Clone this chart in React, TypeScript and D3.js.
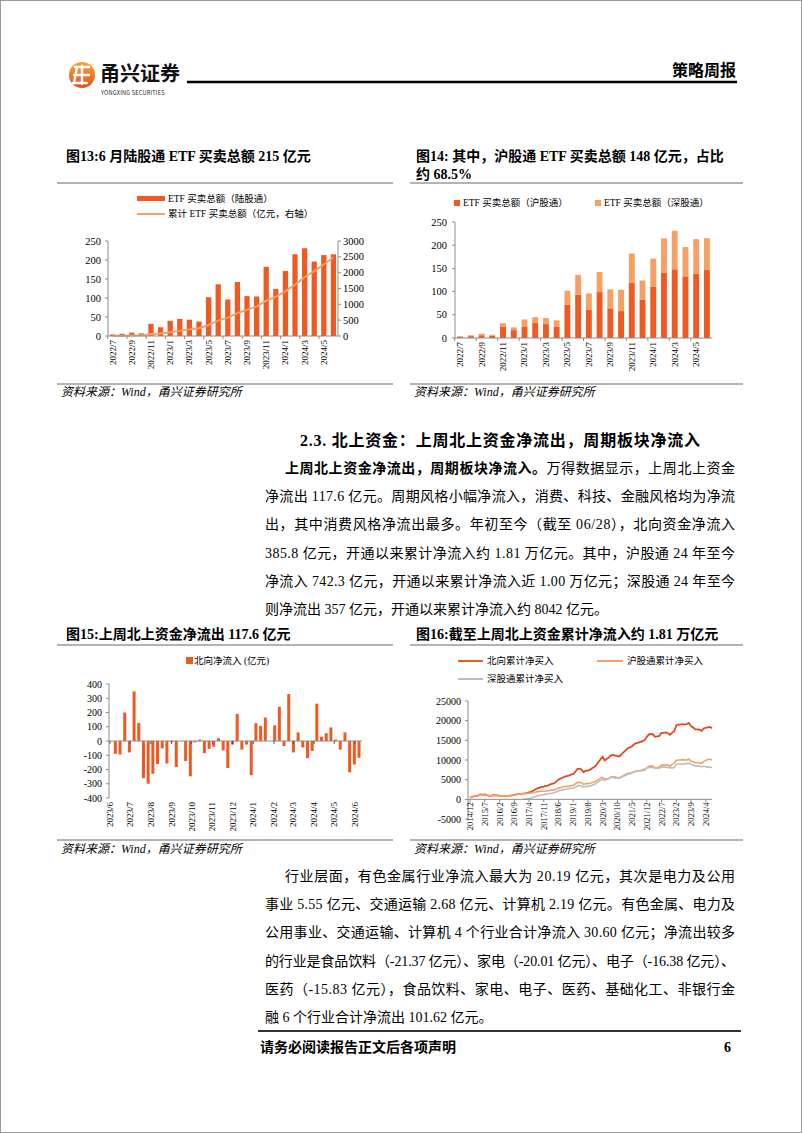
import React from 'react';
import * as d3 from 'd3';

const W = 802;
const H = 1133;
const SERIF = '"Liberation Serif","Noto Sans CJK SC",serif';
const SANS = '"Noto Sans CJK SC","Noto Sans",sans-serif';
const ORANGE = '#F05A22';
const LIGHT = '#F6A066';
const AXIS = '#8C8C8C';

// ---------- Chart 13 / 14 data (monthly, 亿元) ----------
const etfMonths = ['2022/7','2022/8','2022/9','2022/10','2022/11','2022/12','2023/1','2023/2','2023/3','2023/4','2023/5','2023/6','2023/7','2023/8','2023/9','2023/10','2023/11','2023/12','2024/1','2024/2','2024/3','2024/4','2024/5','2024/6'];
const etfTotal = [4,6,9,7,32,23,40,45,43,38,102,136,96,142,105,104,182,124,171,215,231,196,213,215];
const etfCumulative = [4,10,19,26,58,81,121,166,209,247,349,485,581,723,828,932,1114,1238,1409,1624,1855,2051,2264,2479];
const etfSH = [3,4,6,5,24,17,25,33,30,24,72,93,61,99,64,58,119,82,111,141,148,133,139,147];
const etfSZ = [1,2,3,2,8,6,15,12,13,14,30,43,35,43,41,46,63,42,60,74,83,63,74,68];
const leftTicks13 = [0,50,100,150,200,250];
const rightTicks13 = [0,500,1000,1500,2000,2500,3000];

// ---------- Chart 15 data (weekly net inflow, 亿元) ----------
const weekDates = ['2023-06-09','2023-06-16','2023-06-23','2023-06-30','2023-07-07','2023-07-14','2023-07-21','2023-07-28','2023-08-04','2023-08-11','2023-08-18','2023-08-25','2023-09-01','2023-09-08','2023-09-15','2023-09-22','2023-09-29','2023-10-06','2023-10-13','2023-10-20','2023-10-27','2023-11-03','2023-11-10','2023-11-17','2023-11-24','2023-12-01','2023-12-08','2023-12-15','2023-12-22','2023-12-29','2024-01-05','2024-01-12','2024-01-19','2024-01-26','2024-02-02','2024-02-09','2024-02-16','2024-02-23','2024-03-01','2024-03-08','2024-03-15','2024-03-22','2024-03-29','2024-04-05','2024-04-12','2024-04-19','2024-04-26','2024-05-03','2024-05-10','2024-05-17','2024-05-24','2024-05-31','2024-06-07'];
const weeklyFlow = [-90,-95,200,-80,348,127,-261,-300,-230,-162,-52,-158,-8,-183,0,-140,-248,-10,10,-85,-55,-40,20,-65,-190,-25,190,-60,-25,-240,125,105,165,0,110,240,-35,330,-80,60,-45,-120,-70,262,30,55,95,10,-60,60,-220,-165,-118];
const ticks15 = [-400,-300,-200,-100,0,100,200,300,400];

// ---------- Chart 16 data (month-end cumulative, 亿元), 2014/11 .. 2024/6 ----------
const cumNorth = [450,650,
  800,850,1000,1300,1150,1250,1050,950,900,1050,1000,1000,
  880,870,900,880,900,950,1000,1100,1250,1330,1400,1450,
  1500,1600,1750,1900,2200,2500,2800,3000,3150,3250,3400,3500,
  3800,3900,4100,4500,5000,5300,5500,5800,5900,6000,6300,6400,
  7000,7700,7800,7600,6900,7300,7300,7500,7900,8200,8700,9500,
  10200,10800,9900,10300,10600,11200,11300,11100,11000,10900,11500,12000,
  12500,13000,13200,13500,14000,14300,14400,14600,14800,15100,15900,16500,
  16600,16500,15900,16000,16100,16900,16900,17000,16800,16400,16900,17300,
  18800,19000,19000,19100,19000,19100,19400,18600,18300,17800,17800,17700,
  17400,18000,18200,18300,18400,18100];
const cumSH = [450,650,
  800,850,1000,1300,1150,1250,1050,950,900,1050,1000,1000,
  880,870,900,880,900,950,1000,1100,1250,1330,1400,1430,
  1450,1500,1550,1600,1700,1800,1950,2000,2050,2050,2100,2100,
  2300,2350,2400,2600,2850,3000,3100,3250,3300,3300,3500,3550,
  3900,4300,4300,4200,3800,4000,4000,4100,4300,4400,4700,5000,
  5400,5600,5100,5200,5300,5700,5600,5400,5500,5500,5800,6100,
  6400,6600,6700,6800,7000,7100,7200,7300,7500,7700,8000,8400,
  8500,8400,8000,8100,8200,8700,8700,8800,8700,8400,8900,9200,
  9900,10000,10000,10100,10000,10000,10200,9700,9600,9300,9300,9300,
  9100,9600,9900,10100,10200,10000];
const cumSZ: (number | null)[] = [null,null,
  null,null,null,null,null,null,null,null,null,null,null,null,
  null,null,null,null,null,null,null,null,null,null,null,20,
  50,100,200,300,500,700,850,1000,1100,1200,1300,1400,
  1500,1550,1700,1900,2150,2300,2400,2550,2600,2700,2800,2850,
  3100,3400,3500,3400,3100,3300,3300,3400,3600,3800,4000,4500,
  4800,5200,4800,5100,5300,5500,5700,5700,5500,5400,5700,5900,
  6100,6400,6500,6700,7000,7200,7200,7300,7300,7400,7900,8100,
  8100,8100,7900,7900,7900,8200,8200,8200,8100,8000,8000,8100,
  8900,9000,9000,9000,9000,9100,9200,8900,8700,8500,8500,8400,
  8300,8400,8300,8200,8200,8050];
const ticks16 = [-5000,0,5000,10000,15000,20000,25000];

// ---------- Text ----------
const para1 = [
  '净流出 117.6 亿元。周期风格小幅净流入，消费、科技、金融风格均为净流',
  '出，其中消费风格净流出最多。年初至今（截至 06/28），北向资金净流入',
  '385.8 亿元，开通以来累计净流入约 1.81 万亿元。其中，沪股通 24 年至今',
  '净流入 742.3 亿元，开通以来累计净流入近 1.00 万亿元；深股通 24 年至今',
  '则净流出 357 亿元，开通以来累计净流入约 8042 亿元。',
];
const para2 = [
  '行业层面，有色金属行业净流入最大为 20.19 亿元，其次是电力及公用',
  '事业 5.55 亿元、交通运输 2.68 亿元、计算机 2.19 亿元。有色金属、电力及',
  '公用事业、交通运输、计算机 4 个行业合计净流入 30.60 亿元；净流出较多',
  '的行业是食品饮料（-21.37 亿元）、家电（-20.01 亿元）、电子（-16.38 亿元）、',
  '医药（-15.83 亿元），食品饮料、家电、电子、医药、基础化工、非银行金',
  '融 6 个行业合计净流出 101.62 亿元。',
];

const parseDay = d3.timeParse('%Y-%m-%d');

function Rot({ x, y, text, size = 9 }: { x: number; y: number; text: string; size?: number }) {
  return (
    <text transform={`translate(${x},${y}) rotate(-90)`} textAnchor="end" dominantBaseline="central"
      fontSize={size} fontFamily={SERIF} fill="#000">{text}</text>
  );
}

function Source({ x, y1, x2, ty }: { x: number; y1: number; x2: number; ty: number }) {
  return (
    <g>
      <line x1={x} x2={x2} y1={y1} y2={y1} stroke="#9a9a9a" strokeWidth={1.5} />
      <text x={x + 4} y={ty} fontSize={12} fontStyle="italic" fontFamily={SERIF} fill="#000">资料来源：Wind，甬兴证券研究所</text>
    </g>
  );
}

function Chart13() {
  const x = d3.scaleBand<string>().domain(etfMonths).range([108, 338]).paddingInner(0.45).paddingOuter(0.2);
  const yL = d3.scaleLinear().domain([0, 250]).range([336, 241]);
  const yR = d3.scaleLinear().domain([0, 3000]).range([336, 241]);
  const line = d3.line<number>()
    .x((_, i) => (x(etfMonths[i]) as number) + x.bandwidth() / 2)
    .y((d) => yR(d));
  return (
    <g>
      <text x={66} y={161} fontSize={14} fontWeight="bold" fontFamily={SERIF}>图13:6 月陆股通 ETF 买卖总额 215 亿元</text>
      <line x1={57} x2={393} y1={183} y2={183} stroke="#9a9a9a" strokeWidth={1.5} />
      <rect x={137} y={196} width={28} height={5} fill={ORANGE} />
      <text x={168} y={199} fontSize={9.5} fontFamily={SERIF} dominantBaseline="central">ETF 买卖总额（陆股通）</text>
      <line x1={137} x2={165} y1={214} y2={214} stroke={LIGHT} strokeWidth={2} />
      <text x={168} y={214} fontSize={9.5} fontFamily={SERIF} dominantBaseline="central">累计 ETF 买卖总额（亿元，右轴）</text>
      {etfTotal.map((v, i) => (
        <rect key={i} x={x(etfMonths[i])} y={yL(v)} width={x.bandwidth()} height={yL(0) - yL(v)} fill={ORANGE} />
      ))}
      <path d={line(etfCumulative) || ''} fill="none" stroke={LIGHT} strokeWidth={2} />
      <line x1={108} x2={108} y1={241} y2={336} stroke={AXIS} />
      <line x1={338} x2={338} y1={241} y2={336} stroke={AXIS} />
      <line x1={108} x2={338} y1={336} y2={336} stroke={AXIS} />
      {leftTicks13.map((t) => (
        <g key={t}>
          <line x1={105} x2={108} y1={yL(t)} y2={yL(t)} stroke={AXIS} />
          <text x={101} y={yL(t)} textAnchor="end" dominantBaseline="central" fontSize={10.5} fontFamily={SERIF}>{t}</text>
        </g>
      ))}
      {rightTicks13.map((t) => (
        <g key={t}>
          <line x1={338} x2={341} y1={yR(t)} y2={yR(t)} stroke={AXIS} />
          <text x={343} y={yR(t)} textAnchor="start" dominantBaseline="central" fontSize={10.5} fontFamily={SERIF}>{t}</text>
        </g>
      ))}
      {etfMonths.map((m, i) => (i % 2 === 0 ? (
        <g key={m}>
          <line x1={(x(m) as number) - x.step() * 0.225} x2={(x(m) as number) - x.step() * 0.225} y1={336} y2={339} stroke={AXIS} />
          <Rot x={(x(m) as number) + x.bandwidth() / 2} y={340} text={m} />
        </g>
      ) : null))}
      <Source x={57} x2={393} y1={384} ty={396} />
    </g>
  );
}

function Chart14() {
  const x = d3.scaleBand<string>().domain(etfMonths).range([455, 712]).paddingInner(0.45).paddingOuter(0.2);
  const y = d3.scaleLinear().domain([0, 250]).range([338, 222]);
  const ticks = [0, 50, 100, 150, 200, 250];
  return (
    <g>
      <text x={416} y={161} fontSize={14} fontWeight="bold" fontFamily={SERIF}>图14: 其中，沪股通 ETF 买卖总额 148 亿元，占比</text>
      <text x={416} y={179} fontSize={14} fontWeight="bold" fontFamily={SERIF}>约 68.5%</text>
      <line x1={410} x2={743} y1={183} y2={183} stroke="#9a9a9a" strokeWidth={1.5} />
      <rect x={454} y={200} width={6} height={6} fill={ORANGE} />
      <text x={463} y={203} fontSize={9.5} fontFamily={SERIF} dominantBaseline="central">ETF 买卖总额（沪股通）</text>
      <rect x={595} y={200} width={6} height={6} fill={LIGHT} />
      <text x={604} y={203} fontSize={9.5} fontFamily={SERIF} dominantBaseline="central">ETF 买卖总额（深股通）</text>
      {etfSH.map((v, i) => (
        <g key={i}>
          <rect x={x(etfMonths[i])} y={y(v)} width={x.bandwidth()} height={y(0) - y(v)} fill={ORANGE} />
          <rect x={x(etfMonths[i])} y={y(v + etfSZ[i])} width={x.bandwidth()} height={y(v) - y(v + etfSZ[i])} fill={LIGHT} />
        </g>
      ))}
      <line x1={455} x2={455} y1={222} y2={338} stroke={AXIS} />
      <line x1={455} x2={712} y1={338} y2={338} stroke={AXIS} />
      {ticks.map((t) => (
        <g key={t}>
          <line x1={452} x2={455} y1={y(t)} y2={y(t)} stroke={AXIS} />
          <text x={447} y={y(t)} textAnchor="end" dominantBaseline="central" fontSize={10.5} fontFamily={SERIF}>{t}</text>
        </g>
      ))}
      {etfMonths.map((m, i) => (i % 2 === 0 ? (
        <g key={m}>
          <line x1={(x(m) as number) - x.step() * 0.225} x2={(x(m) as number) - x.step() * 0.225} y1={338} y2={341} stroke={AXIS} />
          <Rot x={(x(m) as number) + x.bandwidth() / 2} y={342} text={m} />
        </g>
      ) : null))}
      <Source x={410} x2={743} y1={384} ty={396} />
    </g>
  );
}

function Chart15() {
  const x = d3.scaleTime().domain([new Date(2023, 5, 1), new Date(2024, 5, 1)]).range([110, 355]);
  const y = d3.scaleLinear().domain([-400, 400]).range([798, 684]);
  const months = d3.timeMonth.range(new Date(2023, 5, 1), new Date(2024, 5, 2));
  const fmt = d3.timeFormat('%Y/%-m');
  const bw = 3;
  return (
    <g>
      <text x={66} y={639} fontSize={14} fontWeight="bold" fontFamily={SERIF}>图15:上周北上资金净流出 117.6 亿元</text>
      <line x1={57} x2={393} y1={645} y2={645} stroke="#9a9a9a" strokeWidth={1.5} />
      <rect x={186} y={657} width={7} height={7} fill={ORANGE} />
      <text x={194} y={661} fontSize={9.5} fontFamily={SERIF} dominantBaseline="central">北向净流入 (亿元)</text>
      {weeklyFlow.map((v, i) => {
        const cx = x(parseDay(weekDates[i]) as Date);
        return <rect key={i} x={cx - bw / 2} y={y(Math.max(0, v))} width={bw} height={Math.abs(y(v) - y(0))} fill={ORANGE} />;
      })}
      <line x1={109} x2={362} y1={y(0)} y2={y(0)} stroke={AXIS} />
      {months.map((m) => (
        <line key={+m} x1={x(m)} x2={x(m)} y1={y(0)} y2={y(0) + 3} stroke="#555" />
      ))}
      <line x1={109} x2={109} y1={684} y2={798} stroke={AXIS} />
      {ticks15.map((t) => (
        <g key={t}>
          <line x1={106} x2={109} y1={y(t)} y2={y(t)} stroke={AXIS} />
          <text x={102} y={y(t)} textAnchor="end" dominantBaseline="central" fontSize={10} fontFamily={SERIF}>{t}</text>
        </g>
      ))}
      {months.map((m) => (
        <Rot key={+m} x={x(m)} y={802} text={fmt(m)} />
      ))}
    </g>
  );
}

function Chart16() {
  const x = d3.scaleTime().domain([new Date(2014, 10, 1), new Date(2024, 5, 30)]).range([468, 712]);
  const y = d3.scaleLinear().domain([-5000, 25000]).range([819, 701]);
  const dates = d3.timeMonth.range(new Date(2014, 10, 1), new Date(2024, 6, 1)).map((m) => new Date(m.getFullYear(), m.getMonth() + 1, 0));
  const mk = (arr: (number | null)[]) => d3.line<number | null>()
    .defined((d) => d !== null)
    .x((_, i) => x(dates[i]))
    .y((d) => y(d as number))(arr) || '';
  const labels = d3.range(0, 17).map((k) => new Date(2014, 11 + 7 * k, 1));
  const fmt = d3.timeFormat('%Y/%-m');
  return (
    <g>
      <text x={416} y={639} fontSize={14} fontWeight="bold" fontFamily={SERIF}>图16:截至上周北上资金累计净流入约 1.81 万亿元</text>
      <line x1={410} x2={743} y1={645} y2={645} stroke="#9a9a9a" strokeWidth={1.5} />
      <line x1={458} x2={483} y1={661} y2={661} stroke={ORANGE} strokeWidth={2} />
      <text x={487} y={661} fontSize={9.5} fontFamily={SERIF} dominantBaseline="central">北向累计净买入</text>
      <line x1={597} x2={623} y1={661} y2={661} stroke={LIGHT} strokeWidth={2} />
      <text x={627} y={661} fontSize={9.5} fontFamily={SERIF} dominantBaseline="central">沪股通累计净买入</text>
      <line x1={458} x2={483} y1={679} y2={679} stroke="#BDBDBD" strokeWidth={2} />
      <text x={487} y={679} fontSize={9.5} fontFamily={SERIF} dominantBaseline="central">深股通累计净买入</text>
      <path d={mk(cumNorth)} fill="none" stroke="#E8471C" strokeWidth={1.8} />
      <path d={mk(cumSH)} fill="none" stroke={LIGHT} strokeWidth={1.6} />
      <path d={mk(cumSZ)} fill="none" stroke="#BDBDBD" strokeWidth={1.6} />
      <line x1={468} x2={468} y1={701} y2={819} stroke={AXIS} />
      <line x1={468} x2={712} y1={y(0)} y2={y(0)} stroke={AXIS} />
      {ticks16.map((t) => (
        <g key={t}>
          <line x1={465} x2={468} y1={y(t)} y2={y(t)} stroke={AXIS} />
          <text x={461} y={y(t)} textAnchor="end" dominantBaseline="central" fontSize={10} fontFamily={SERIF}>{t}</text>
        </g>
      ))}
      {labels.map((m) => (
        <g key={+m}>
          <line x1={x(m)} x2={x(m)} y1={y(0)} y2={y(0) + 3} stroke={AXIS} />
          <Rot x={x(m)} y={y(0) + 3} text={fmt(m)} size={8.5} />
        </g>
      ))}
    </g>
  );
}

function Logo() {
  return (
    <g>
      <defs>
        <linearGradient id="lg" x1="0" y1="0" x2="0" y2="1">
          <stop offset="0" stopColor="#F8A43A" />
          <stop offset="1" stopColor="#E4501E" />
        </linearGradient>
      </defs>
      <circle cx={82} cy={75} r={13} fill="url(#lg)" />
      <path d="M75 67 h14 M74 75 h15 M73 83 h14 M82 66 v18 M77 67 l-3 16" stroke="#fff" strokeWidth={2.4} fill="none" strokeLinecap="round" />
      <text x={100} y={81} fontSize={20} fontWeight="bold" fontFamily={SANS} fill="#111">甬兴证券</text>
      <text x={101} y={95} fontSize={5.6} fontFamily={SANS} fill="#222" letterSpacing={0.2}>YONGXING SECURITIES</text>
    </g>
  );
}

export default function App() {
  const lh = 28.2;
  return (
    <svg width={W} height={H} viewBox={`0 0 ${W} ${H}`} style={{ position: 'absolute', left: 0, top: 0, background: '#fff' }}>
      <rect x={0.5} y={0.5} width={W - 1} height={H - 1} fill="#fff" stroke="#9a9a9a" />
      <Logo />
      <line x1={187} x2={737} y1={82} y2={82} stroke="#000" strokeWidth={2.5} />
      <text x={736} y={76} textAnchor="end" fontSize={16} fontWeight="bold" fontFamily={SERIF}>策略周报</text>

      <Chart13 />
      <Chart14 />

      <text x={300} y={446} fontSize={16} fontWeight="bold" fontFamily={SERIF} textLength={400} lengthAdjust="spacing">2.3. 北上资金：上周北上资金净流出，周期板块净流入</text>
      <text x={285} y={473} fontSize={14} fontFamily={SERIF} textLength={450} lengthAdjust="spacing">
        <tspan fontWeight="bold">上周北上资金净流出，周期板块净流入。</tspan>
        <tspan>万得数据显示，上周北上资金</tspan>
      </text>
      {para1.map((s, i) => (
        <text key={i} x={265} y={473 + lh * (i + 1)} fontSize={14} fontFamily={SERIF}
          textLength={i < para1.length - 1 ? 470 : undefined} lengthAdjust="spacing">{s}</text>
      ))}

      <Chart15 />
      <Chart16 />
      <Source x={57} x2={393} y1={840} ty={853} />
      <Source x={410} x2={743} y1={840} ty={853} />

      {para2.map((s, i) => (
        <text key={i} x={i === 0 ? 285 : 265} y={881 + lh * i} fontSize={14} fontFamily={SERIF}
          textLength={i < para2.length - 1 ? (i === 0 ? 450 : 470) : undefined} lengthAdjust="spacing">{s}</text>
      ))}

      <line x1={258} x2={741} y1={1031} y2={1031} stroke="#333" strokeWidth={2} />
      <text x={260} y={1052} fontSize={14} fontWeight="bold" fontFamily={SERIF}>请务必阅读报告正文后各项声明</text>
      <text x={731} y={1052} textAnchor="end" fontSize={14} fontWeight="bold" fontFamily={SERIF}>6</text>
    </svg>
  );
}
